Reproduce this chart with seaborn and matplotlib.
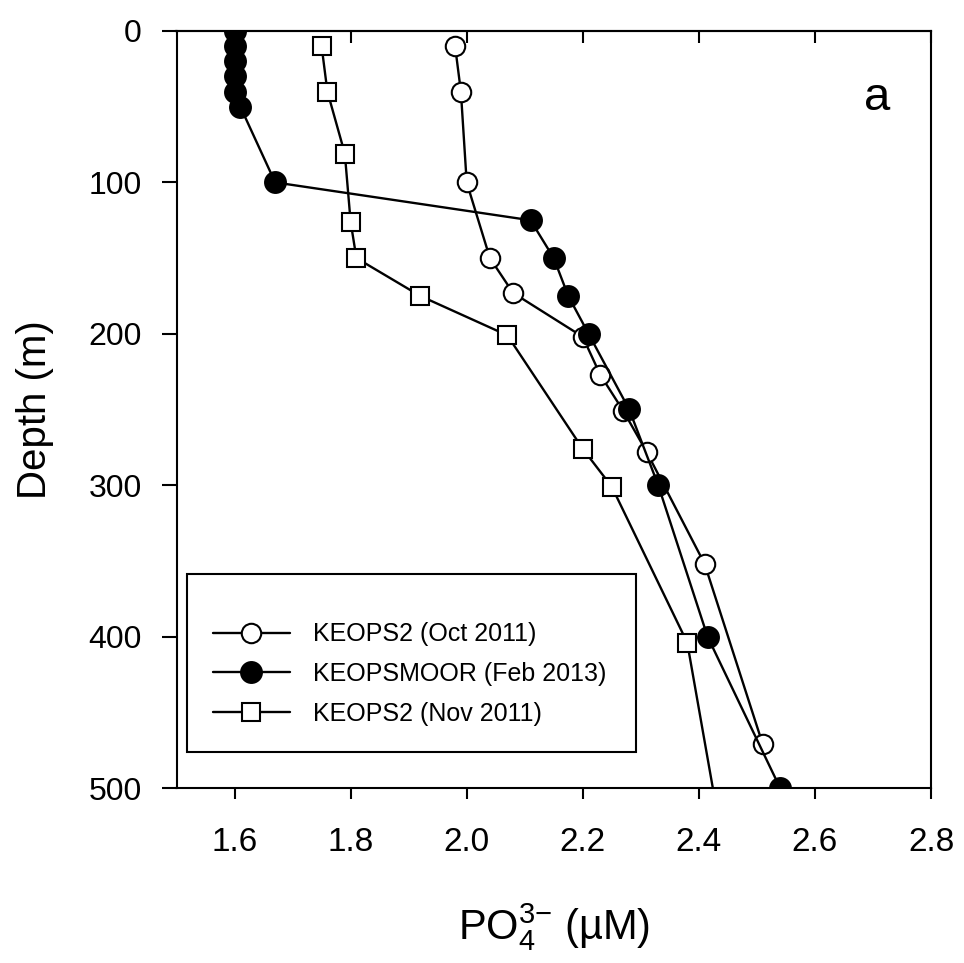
import numpy as np
import pandas as pd
import matplotlib
matplotlib.use("Agg")
import matplotlib.pyplot as plt
import seaborn as sns

# ---- data ----
oct_po4 = [1.98, 1.99, 2.00, 2.04, 2.08, 2.20, 2.23, 2.27, 2.31, 2.41, 2.51]
oct_depth = [10, 40, 100, 150, 173, 202, 227, 251, 278, 352, 471]

moor_po4 = [1.60, 1.60, 1.60, 1.60, 1.60, 1.61, 1.67, 2.11, 2.15, 2.175, 2.21, 2.28, 2.33, 2.415, 2.54]
moor_depth = [0, 10, 20, 30, 40, 50, 100, 125, 150, 175, 200, 250, 300, 400, 500]

nov_po4 = [1.75, 1.76, 1.79, 1.80, 1.81, 1.92, 2.07, 2.20, 2.25, 2.38, 2.47]
nov_depth = [10, 40, 81, 126, 150, 175, 201, 276, 301, 404, 600]

labels = ["KEOPS2 (Oct 2011)", "KEOPSMOOR (Feb 2013)", "KEOPS2 (Nov 2011)"]
xticks = [1.6, 1.8, 2.0, 2.2, 2.4, 2.6, 2.8]
yticks = [0, 100, 200, 300, 400, 500]

sns.set_theme(style="white")
plt.rcParams["font.family"] = ["Liberation Sans", "DejaVu Sans"]
plt.rcParams["mathtext.fontset"] = "custom"
plt.rcParams["mathtext.rm"] = "Liberation Sans"
plt.rcParams["mathtext.it"] = "Liberation Sans"
for k in ["text.color", "axes.labelcolor", "xtick.color", "ytick.color", "axes.edgecolor"]:
    plt.rcParams[k] = "black"

fig = plt.figure(figsize=(9.64, 9.63), dpi=100)
ax = fig.add_axes([176.5 / 964, 1 - 788 / 963, (931 - 176.5) / 964, (788 - 31) / 963])

common = dict(sort=False, estimator=None, color="black", lw=1.7, ax=ax,
              markeredgecolor="black", markeredgewidth=1.5)
sns.lineplot(x=oct_po4, y=oct_depth, marker="o", markersize=14,
             markerfacecolor="white", label=labels[0], **common)
sns.lineplot(x=moor_po4, y=moor_depth, marker="o", markersize=15,
             markerfacecolor="black", label=labels[1], **common)
sns.lineplot(x=nov_po4, y=nov_depth, marker="s", markersize=13,
             markerfacecolor="white", label=labels[2], **common)

ax.set_xlim(1.5, 2.8)
ax.set_ylim(500, 0)
ax.set_xticks(xticks)
ax.set_xticklabels([f"{v:.1f}" for v in xticks])
ax.set_yticks(yticks)
ax.set_yticklabels([str(v) for v in yticks])
for s in ax.spines.values():
    s.set_color("black")
    s.set_linewidth(1.5)
ax.tick_params(axis="x", direction="out", length=8, width=1.5,
               labelsize=24, pad=20, bottom=True)
ax.tick_params(axis="y", direction="out", length=11, width=1.5,
               labelsize=23, pad=14, left=True)
sec = ax.secondary_xaxis("top")
sec.set_xticks(xticks)
sec.tick_params(direction="in", length=8.6, width=1.5, labeltop=False)
sec.spines["top"].set_linewidth(1.5)

ax.set_xlabel(r"PO$_4^{3\mathrm{-}}$ (µM)", fontsize=30, labelpad=31)
ax.set_ylabel("Depth (m)", fontsize=29, labelpad=25)

ax.text(0.929, 0.8956, "a", transform=ax.transAxes, fontsize=34,
        ha="center", va="baseline")

leg = ax.legend(loc="upper left", bbox_to_anchor=(0.0139, 0.2827, 0.595, 0.0),
                mode="expand", fontsize=18, frameon=True, fancybox=False,
                edgecolor="black", framealpha=1, borderpad=1.03,
                labelspacing=0.63, handlelength=3.1, handletextpad=0.92,
                borderaxespad=0, title=" ", title_fontsize=5)
leg.get_frame().set_linewidth(1.5)

fig.savefig("out.png", dpi=100)
